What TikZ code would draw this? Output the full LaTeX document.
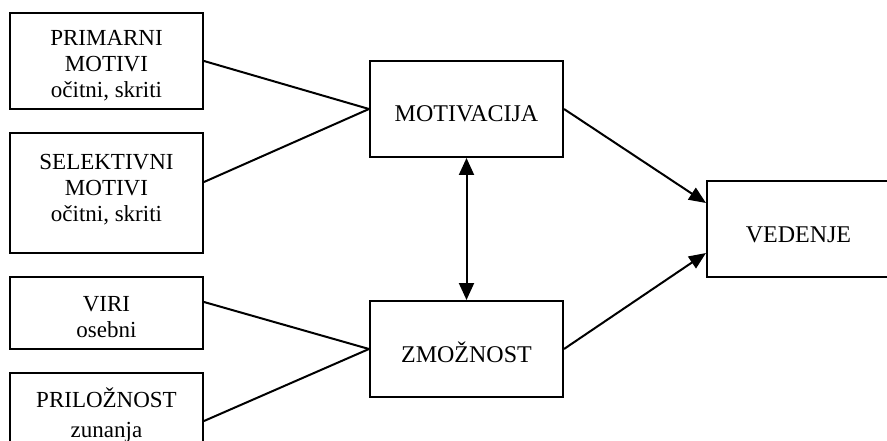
\documentclass[tikz,border=0pt]{standalone}
\usepackage{fontspec}
\setmainfont{Liberation Serif}
\usetikzlibrary{arrows.meta,calc}
\newlength{\du}
\setlength{\du}{1pt}

\begin{document}
\begin{tikzpicture}[
  box/.style={draw, line width=2\du, minimum width=193\du, inner sep=0pt, align=center,
    font=\fontsize{23}{26}\selectfont, text depth=0\du},
  mainbox/.style={box, minimum height=96\du, text height=26\du,
    font=\fontsize{24}{27}\selectfont},
  link/.style={line width=2\du},
  arr/.style={line width=2\du, arrows={-Triangle[length=17pt,width=14pt]}},
  twoway/.style={line width=2\du,
    arrows={Triangle[length=17pt,width=15pt]-Triangle[length=17pt,width=15pt]}}]
\pgftransformyscale{-1.000000}
\useasboundingbox (0\du,0\du) rectangle (887\du,441\du);
% left column
\node[box, minimum height=96\du, text height=74\du] (prim) at (106.5\du,61\du) {PRIMARNI\\MOTIVI\\očitni, skriti};
\node[box, minimum height=120\du, text height=58\du] (sel) at (106.5\du,193\du) {SELEKTIVNI\\MOTIVI\\očitni, skriti};
\node[box, minimum height=72\du, text height=48\du] (viri) at (106.5\du,313\du) {VIRI\\osebni};
\node[box, minimum height=96\du, text height=32\du, font=\fontsize{23}{30}\selectfont] (prilo) at (106.5\du,421\du) {PRILOŽNOST\\zunanja};
% middle column
\node[mainbox] (mot) at (466.5\du,109\du) {MOTIVACIJA};
\node[mainbox] (zmo) at (466.5\du,349\du) {ZMOŽNOST};
% right
\node[mainbox, minimum width=183\du] (ved) at (798.5\du,229\du) {VEDENJE};
% connectors
\draw[link] (prim.east) -- (mot.west);
\draw[link] ($(sel.east)+(0\du,-11\du)$) -- (mot.west);
\draw[link] ($(viri.east)+(0\du,-11\du)$) -- (zmo.west);
\draw[link] (prilo.east) -- (zmo.west);
\draw[twoway] (mot.south) -- (zmo.north);
\draw[arr] (mot.east) -- ($(ved.west)+(0\du,-26\du)$);
\draw[arr] (zmo.east) -- ($(ved.west)+(0\du,24\du)$);
\end{tikzpicture}
\end{document}
